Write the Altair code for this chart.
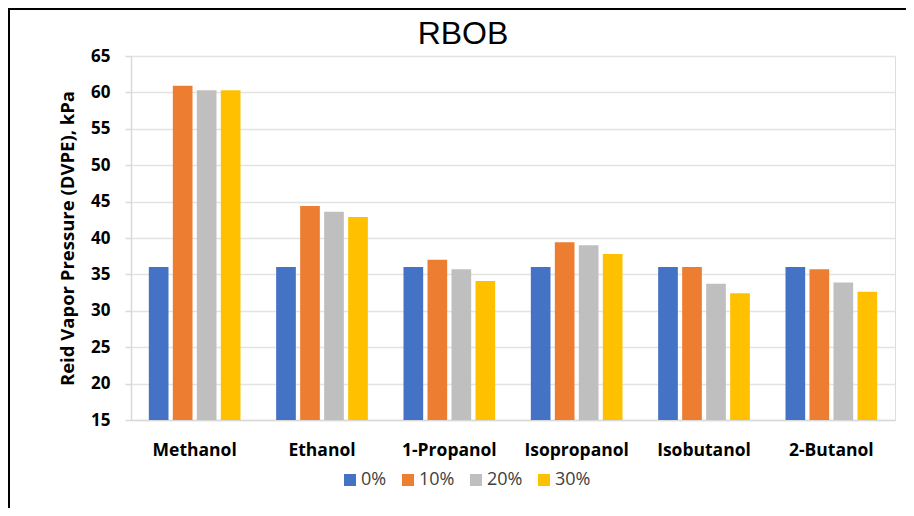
import altair as alt
import pandas as pd

categories = ["Methanol", "Ethanol", "1-Propanol", "Isopropanol", "Isobutanol", "2-Butanol"]
series = ["0%", "10%", "20%", "30%"]
values = {
    "0%":  [36.0, 36.0, 36.0, 36.0, 36.0, 36.0],
    "10%": [60.9, 44.4, 37.0, 39.4, 36.0, 35.7],
    "20%": [60.3, 43.6, 35.7, 39.0, 33.7, 33.9],
    "30%": [60.3, 42.9, 34.1, 37.8, 32.4, 32.6],
}
colors = ["#4472C4", "#ED7D31", "#BFBFBF", "#FFC000"]

rows = []
for s in series:
    for c, v in zip(categories, values[s]):
        rows.append({"Alcohol": c, "Blend": s, "RVP": v})
df = pd.DataFrame(rows)

W, H = 764, 364
FONT = "Open Sans"

bars = alt.Chart(df).mark_bar(clip=True).encode(
    x=alt.X("Alcohol:N", sort=categories,
            scale=alt.Scale(paddingInner=0.28, paddingOuter=0.14),
            axis=alt.Axis(title=None, labelAngle=0, labelFont=FONT, labelFontWeight="bold",
                          labelFontSize=17.5, labelColor="#000000", labelPadding=21,
                          domainColor="#D9D9D9", domainWidth=1.5, ticks=False, grid=False)),
    xOffset=alt.XOffset("Blend:N", sort=series, scale=alt.Scale(paddingInner=0.18)),
    y=alt.Y("RVP:Q", scale=alt.Scale(domain=[15, 65], nice=False, zero=False),
            axis=alt.Axis(values=list(range(15, 70, 5)), title="Reid Vapor Pressure (DVPE), kPa",
                          titleFont=FONT, titleFontSize=18.5, titleFontWeight="bold", titleColor="#000000",
                          titlePadding=13,
                          labelFont=FONT, labelFontSize=17, labelFontWeight="bold", labelColor="#000000",
                          labelPadding=15, ticks=True, tickSize=6, tickColor="#D9D9D9", tickWidth=1.5,
                          domainColor="#D9D9D9", domainWidth=1.5,
                          gridColor="#E3E3E3", gridWidth=1.5)),
    color=alt.Color("Blend:N", sort=series, scale=alt.Scale(domain=series, range=colors),
                    legend=alt.Legend(title=None, orient="none", direction="horizontal",
                                      legendX=210, legendY=415, symbolType="square",
                                      symbolSize=144, symbolStrokeWidth=0, symbolOpacity=1,
                                      labelFont=FONT, labelFontSize=18, labelColor="#404040",
                                      columnPadding=12, labelOffset=2)),
)

title = alt.Chart(pd.DataFrame({"t": ["RBOB"]})).mark_text(
    font="Liberation Sans", fontSize=32, color="#000000", baseline="middle", align="center"
).encode(text="t:N", x=alt.value(332), y=alt.value(-22))

border_left = alt.Chart(pd.DataFrame({"a": [0]})).mark_rule(color="#000000", strokeWidth=2).encode(
    x=alt.value(-122), y=alt.value(-47), y2=alt.value(460))
border_top = alt.Chart(pd.DataFrame({"a": [0]})).mark_rule(color="#000000", strokeWidth=2).encode(
    x=alt.value(-123), x2=alt.value(800), y=alt.value(-47))

chart = alt.layer(bars, title, border_left, border_top).properties(
    width=W, height=H,
    autosize=alt.AutoSizeParams(type="none"),
    padding={"left": 123, "top": 48, "right": 11, "bottom": 88},
).configure_view(stroke=None).configure(background="#FFFFFF")

chart.save("out.html", embed_options={"renderer": "svg", "actions": False})
